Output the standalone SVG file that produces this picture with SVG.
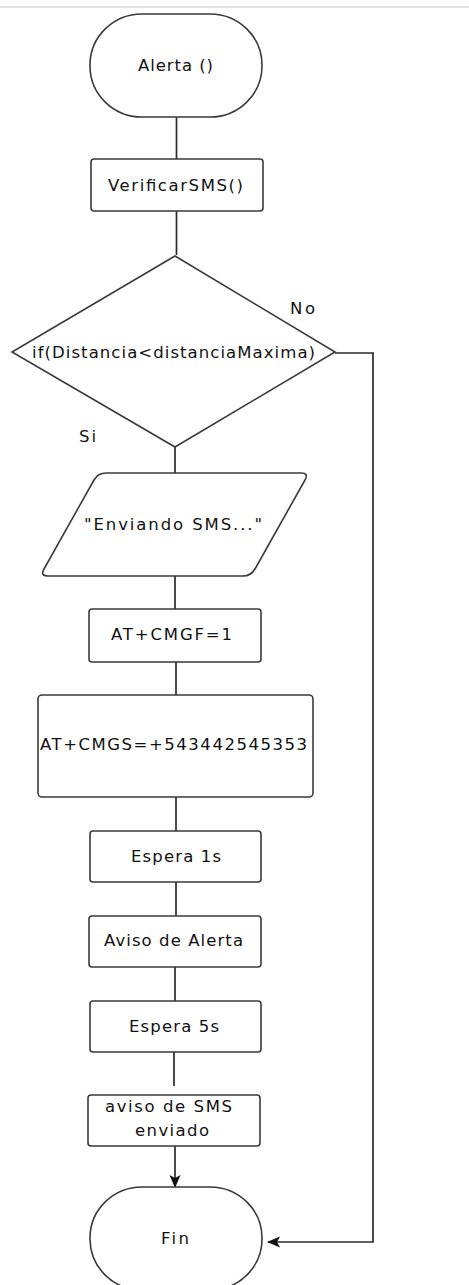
<svg xmlns="http://www.w3.org/2000/svg" width="469" height="1285" viewBox="0 0 469 1285">
  <style>
    .shape { fill: #ffffff; stroke: #3a3a3a; stroke-width: 1.6; }
    .wire { fill: none; stroke: #2a2a2a; stroke-width: 1.7; }
    .label { font-family: "DejaVu Sans", Verdana, sans-serif; font-size: 16.5px; fill: #111111; }
  </style>
  <defs>
    <marker id="arrow" markerWidth="14" markerHeight="14" refX="12" refY="7" orient="auto" markerUnits="userSpaceOnUse">
      <path d="M0,1.5 L13,7 L0,12.5 L3,7 Z" fill="#111111"/>
    </marker>
  </defs>

  <!-- page edge -->
  <rect x="0" y="6" width="469" height="2" fill="#e2e2e2"/>

  <!-- connectors -->
  <g id="connectors">
    <line class="wire" x1="176.5" y1="117" x2="176.5" y2="160"/>
    <line class="wire" x1="176.5" y1="211" x2="176.5" y2="255"/>
    <line class="wire" x1="175" y1="443" x2="175" y2="474"/>
    <line class="wire" x1="175" y1="576" x2="175" y2="610"/>
    <line class="wire" x1="176" y1="662" x2="176" y2="696"/>
    <line class="wire" x1="176" y1="797" x2="176" y2="832"/>
    <line class="wire" x1="176" y1="882" x2="176" y2="917"/>
    <line class="wire" x1="175" y1="967" x2="175" y2="1002"/>
    <line class="wire" x1="174" y1="1052" x2="174" y2="1086"/>
    <line class="wire" x1="175" y1="1146" x2="175" y2="1187" marker-end="url(#arrow)"/>
    <polyline class="wire" points="335,353 373,353 373,1242 268,1242" stroke-width="2" marker-end="url(#arrow)"/>
  </g>

  <!-- start -->
  <g id="node-alerta">
    <rect class="shape" x="90" y="14" width="172" height="103" rx="52" ry="51"/>
    <text class="label" x="138" y="71" textLength="75" lengthAdjust="spacing">Alerta ()</text>
  </g>

  <g id="node-verificar">
    <rect class="shape" x="91" y="159" width="172" height="52" rx="3"/>
    <text class="label" x="108" y="191" textLength="135" lengthAdjust="spacing">VerificarSMS()</text>
  </g>

  <g id="node-decision">
    <polygon class="shape" points="175,256 335,352 175,447 12,352"/>
    <text class="label" x="32" y="358" textLength="283" lengthAdjust="spacing">if(Distancia&lt;distanciaMaxima)</text>
  </g>

  <g id="branch-labels">
    <text class="label" x="290" y="314" textLength="25" lengthAdjust="spacing">No</text>
    <text class="label" x="79" y="442" textLength="17" lengthAdjust="spacing">Si</text>
  </g>

  <g id="node-enviando">
    <path class="shape" d="M106,473 L301,473 Q309,473 305,480 L255,569 Q251,576 243,576 L48,576 Q40,576 44,569 L94,480 Q98,473 106,473 Z"/>
    <text class="label" x="84" y="530" textLength="178" lengthAdjust="spacing">"Enviando SMS..."</text>
  </g>

  <g id="node-cmgf">
    <rect class="shape" x="89" y="609" width="172" height="53" rx="3"/>
    <text class="label" x="111" y="640" textLength="121" lengthAdjust="spacing">AT+CMGF=1</text>
  </g>

  <g id="node-cmgs">
    <rect class="shape" x="38" y="695" width="275" height="102" rx="4"/>
    <text class="label" x="40" y="750" textLength="267" lengthAdjust="spacing">AT+CMGS=+543442545353</text>
  </g>

  <g id="node-espera1">
    <rect class="shape" x="90" y="831" width="171" height="51" rx="3"/>
    <text class="label" x="131" y="862" textLength="90" lengthAdjust="spacing">Espera 1s</text>
  </g>

  <g id="node-aviso-alerta">
    <rect class="shape" x="89" y="916" width="172" height="51" rx="3"/>
    <text class="label" x="104" y="946" textLength="139" lengthAdjust="spacing">Aviso de Alerta</text>
  </g>

  <g id="node-espera5">
    <rect class="shape" x="90" y="1001" width="171" height="51" rx="3"/>
    <text class="label" x="129" y="1032" textLength="90" lengthAdjust="spacing">Espera 5s</text>
  </g>

  <g id="node-aviso-sms">
    <rect class="shape" x="88" y="1095" width="172" height="51" rx="3"/>
    <text class="label" x="105" y="1112" textLength="127" lengthAdjust="spacing">aviso de SMS</text>
    <text class="label" x="135" y="1136" textLength="74" lengthAdjust="spacing">enviado</text>
  </g>

  <!-- end -->
  <g id="node-fin">
    <rect class="shape" x="90" y="1187" width="172" height="103" rx="52" ry="51"/>
    <text class="label" x="161" y="1244" textLength="28" lengthAdjust="spacing">Fin</text>
  </g>
</svg>
